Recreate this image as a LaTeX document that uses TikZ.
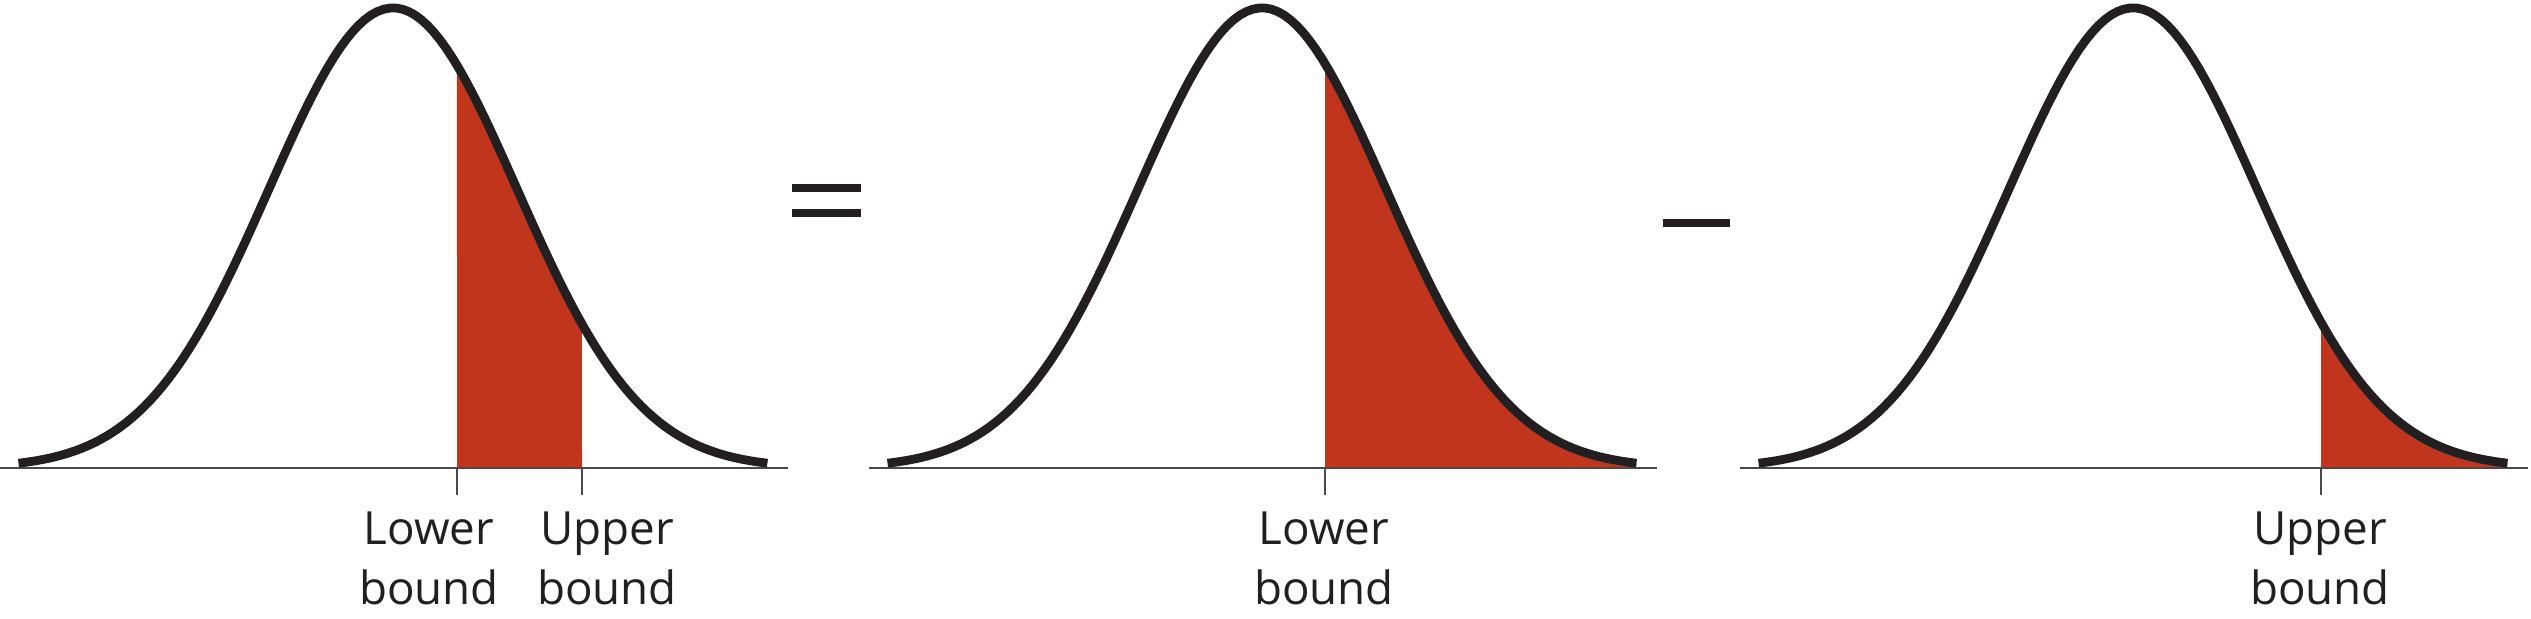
\documentclass[tikz,border=0pt]{standalone}
\usepackage{fontspec}
\setmainfont{Open Sans}
\definecolor{inkK}{HTML}{231F20}
\definecolor{areaR}{HTML}{C1351D}
\definecolor{axisG}{HTML}{4A4A4A}

\begin{document}
\begin{tikzpicture}[
    x=0.01cm, y=0.01cm,
    bell/.style={draw=inkK, line width=2.5pt},
    baseln/.style={draw=axisG, line width=0.8pt},
    tickln/.style={draw=axisG, line width=0.6pt},
    shade/.style={fill=areaR},
    opsign/.style={draw=inkK, line width=2.4pt},
    lbl/.style={font=\fontsize{13}{17}\selectfont, text=inkK,
        align=center, anchor=north, inner sep=0pt},
]
\useasboundingbox (0,0) rectangle (2531,618);
\def\s{124}   % sigma
\def\h{460}   % peak height
\def\ay{150}  % axis level

% shaded areas (under the curves)
\fill[shade] (457,\ay) -- plot[domain=0.516:1.524, samples=40]
    ({393+\s*\x}, {\ay+\h*exp(-\x*\x/2)}) -- (582,\ay) -- cycle;
\fill[shade] (1325,\ay) -- plot[domain=0.508:3.02, samples=60]
    ({1262+\s*\x}, {\ay+\h*exp(-\x*\x/2)}) -- (1636,\ay) -- cycle;
\fill[shade] (2321,\ay) -- plot[domain=1.516:3.02, samples=40]
    ({2133+\s*\x}, {\ay+\h*exp(-\x*\x/2)}) -- (2507,\ay) -- cycle;

% axes and bell curves
\foreach \cx in {393,1262,2133} {
    \draw[baseln] ({\cx-393}, \ay) -- ({\cx+395}, \ay);
    \draw[bell] plot[domain=-3.02:3.02, samples=120]
        ({\cx+\s*\x}, {\ay+\h*exp(-\x*\x/2)});
}

% bounds
\coordinate (lo1) at (457,\ay);
\coordinate (up1) at (582,\ay);
\coordinate (lo2) at (1325,\ay);
\coordinate (up3) at (2321,\ay);
\foreach \b in {lo1,up1,lo2,up3}
    \draw[tickln] (\b) -- ++(0,-27);

% labels
\node[lbl] (lo1txt) at (429,107) {Lower\\bound};
\node[lbl] (up1txt) at (607,107) {Upper\\bound};
\node[lbl] (lo2txt) at (1324,107) {Lower\\bound};
\node[lbl] (up3txt) at (2320,107) {Upper\\bound};

% = and -
\draw[opsign] (792,430) -- (861,430);
\draw[opsign] (792,405) -- (861,405);
\draw[opsign] (1663,395) -- (1730,395);

\end{tikzpicture}
\end{document}
